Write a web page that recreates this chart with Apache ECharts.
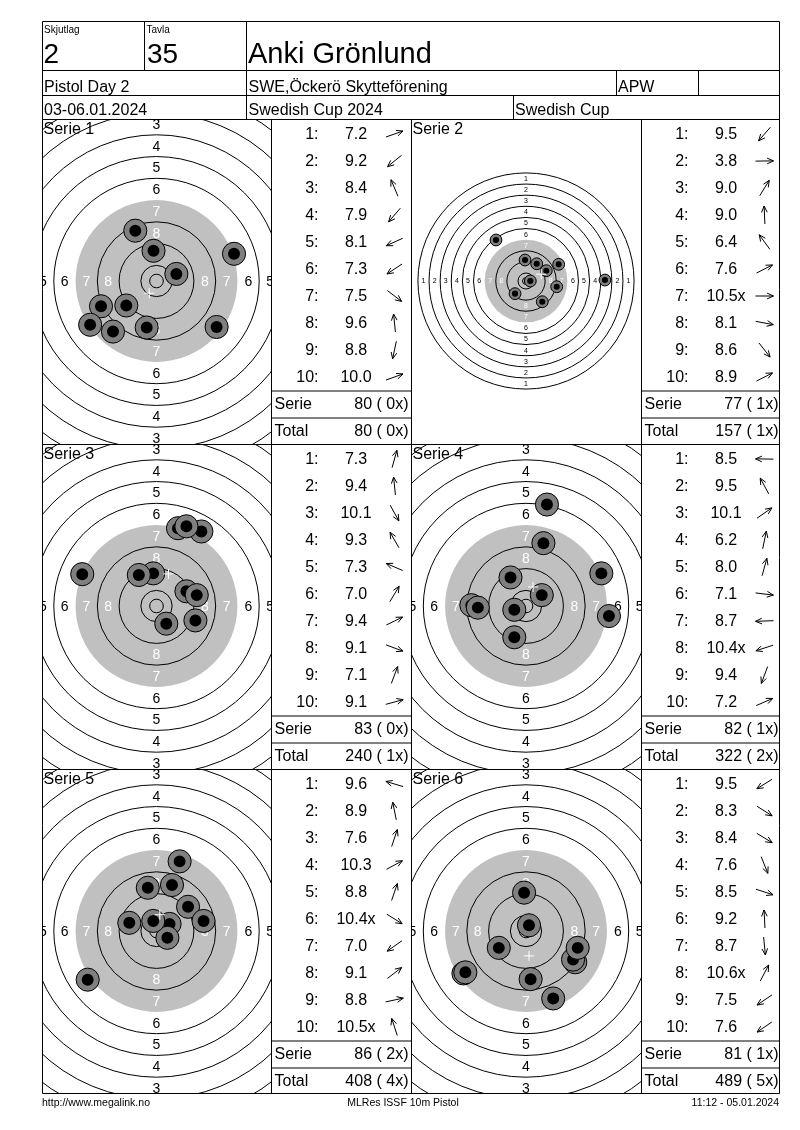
<!DOCTYPE html>
<html><head><meta charset="utf-8">
<script src="https://cdn.jsdelivr.net/npm/echarts@6/dist/echarts.min.js"></script>
<style>html,body{margin:0;padding:0;background:#fff}#c{width:800px;height:1130px}</style>
</head><body><div id="c"></div>
<script>
// ---------- DATA ----------
const relay = '2', lane = '35', shooterName = 'Anki Grönlund';
const eventName = 'Pistol Day 2', clubName = 'SWE,Öckerö Skytteförening', className = 'APW';
const dateText = '03-06.01.2024', compName = 'Swedish Cup 2024', cupName = 'Swedish Cup';
const footerLeft = 'http://www.megalink.no', footerMid = 'MLRes ISSF 10m Pistol', footerRight = '11:12 - 05.01.2024';
const serieNames = ['Serie 1', 'Serie 2', 'Serie 3', 'Serie 4', 'Serie 5', 'Serie 6'];
const shotNumbers = ['1', '2', '3', '4', '5', '6', '7', '8', '9', '10'];

// scores and inner-ten flags, shot positions in mm from centre (x right, y up)
const s1Scores = [7.2, 9.2, 8.4, 7.9, 8.1, 7.3, 7.5, 9.6, 8.8, 10.0];
const s1Inner  = [0, 0, 0, 0, 0, 0, 0, 0, 0, 0];
const s1X = [28.5, -11.1, -7.8, -16.0, -20.4, -24.4, 22.1, -1.1, -3.6, 7.3];
const s1Y = [10.0, -9.0, 18.5, -18.6, -9.3, -16.1, -16.9, 11.1, -17.1, 2.6];

const s2Scores = [9.5, 3.8, 9.0, 9.0, 6.4, 7.6, 10.5, 8.1, 8.6, 8.9];
const s2Inner  = [0, 0, 0, 0, 0, 0, 1, 0, 0, 0];
const s2X = [-7.9, 56.8, 7.7, -0.7, -21.6, 23.5, 3.1, 22.1, 11.7, 14.6];
const s2Y = [-9.1, 0.7, 12.4, 15.1, 29.5, 12.0, 0.0, -4.1, -14.9, 7.4];

const s3Scores = [7.3, 9.4, 10.1, 9.3, 7.3, 7.0, 9.4, 9.1, 7.1, 9.1];
const s3Inner  = [0, 0, 0, 0, 0, 0, 0, 0, 0, 0];
const s3X = [7.9, -1.2, 3.6, -6.5, -27.3, 16.5, 11.0, 14.3, 11.0, 14.8];
const s3Y = [28.6, 12.0, -6.5, 11.4, 11.7, 27.4, 5.4, -5.3, 29.3, 4.0];

const s4Scores = [8.5, 9.5, 10.1, 6.2, 8.0, 7.1, 8.7, 10.4, 9.4, 7.2];
const s4Inner  = [0, 0, 0, 0, 0, 0, 0, 1, 0, 0];
const s4X = [-20.1, -5.7, 5.8, 7.7, 6.4, 30.5, -17.7, -4.3, -4.3, 27.7];
const s4Y = [0.3, 10.5, 4.0, 37.3, 23.1, -3.7, -0.6, -1.4, -11.5, 12.0];

const s5Scores = [9.6, 8.9, 7.6, 10.3, 8.8, 10.4, 7.0, 9.1, 8.8, 10.5];
const s5Inner  = [0, 0, 0, 0, 0, 1, 0, 0, 0, 1];
const s5X = [-10.0, -3.2, 8.5, 4.8, 5.7, 4.0, -25.3, 11.6, 17.3, -1.2];
const s5Y = [3.0, 15.9, 25.6, 2.6, 16.9, -2.5, -17.9, 8.9, 3.7, 3.7];

const s6Scores = [9.5, 8.3, 8.4, 7.6, 8.5, 9.2, 8.7, 10.6, 7.5, 7.6];
const s6Inner  = [0, 0, 0, 0, 0, 0, 0, 1, 0, 0];
const s6X = [-10.0, 18.1, 17.3, 10.0, 19.0, -0.7, 1.7, 1.1, -23.0, -22.3];
const s6Y = [-6.2, -11.5, -10.5, -24.8, -6.2, 14.1, -17.7, 2.1, -15.6, -15.2];

// ISSF 10m pistol target: ring numbers and outer radii (mm)
const ringNumbers = [1, 2, 3, 4, 5, 6, 7, 8, 9, 10];
const ringRadii = [77.75, 69.75, 61.75, 53.75, 45.75, 37.75, 29.75, 21.75, 13.75, 5.75];
const innerTenRadius = 2.5;
const labelRings = [1, 2, 3, 4, 5, 6, 7, 8];

// ---------- LAYOUT / STYLE ----------
const FONT = '"Liberation Sans", Arial, Helvetica, sans-serif';
const targetScale = [2.72, 1.39, 2.72, 2.72, 2.72, 2.72];   // px per mm
const targetLabelSize = [14, 7, 14, 14, 14, 14];
const colTarget = [42.5, 411.5], colTargetW = [229, 230];
const colTable = [271.5, 641.5], colTableW = [140, 138];
const rowTop = [119.5, 444.5, 769.5], rowH = [325, 325, 324];
const centerOffX = [114, 114.5], centerOffY = 161.5;
const shotOuterR = 4.25, shotInnerR = 2.2;
const TY = 1.5; // text vertical nudge

const sets = [
  [s1Scores, s1Inner, s1X, s1Y], [s2Scores, s2Inner, s2X, s2Y],
  [s3Scores, s3Inner, s3X, s3Y], [s4Scores, s4Inner, s4X, s4Y],
  [s5Scores, s5Inner, s5X, s5Y], [s6Scores, s6Inner, s6X, s6Y]
];

const grids = [], xAxes = [], yAxes = [], series = [], graphics = [];

function txt(text, x, y, size, align, color) {
  return {
    type: 'text', z: 100, silent: true,
    style: { text: text, x: x, y: y + TY, fill: color || '#000', font: size + 'px ' + FONT,
      fontSize: size, fontFamily: FONT,
      textAlign: align || 'left', align: align || 'left',
      textVerticalAlign: 'middle', verticalAlign: 'middle' }
  };
}
function ln(x1, y1, x2, y2) {
  return { type: 'line', z: 100, silent: true, shape: { x1: x1, y1: y1, x2: x2, y2: y2 },
    style: { stroke: '#000', lineWidth: 1 } };
}

function ringsRender(labelSize) {
  return function (params, api) {
    const c = api.coord([0, 0]);
    const k = api.size([1, 1])[0];
    const ch = [];
    ch.push({ type: 'circle', shape: { cx: c[0], cy: c[1], r: ringRadii[6] * k }, style: { fill: '#c0c0c0' } });
    ringNumbers.forEach(function (n, i) {
      if (n === 7) return;
      ch.push({ type: 'circle', shape: { cx: c[0], cy: c[1], r: ringRadii[i] * k },
        style: { fill: 'none', stroke: '#000', lineWidth: 1 } });
    });
    ch.push({ type: 'circle', shape: { cx: c[0], cy: c[1], r: innerTenRadius * k },
      style: { fill: 'none', stroke: '#000', lineWidth: 1 } });
    labelRings.forEach(function (n) {
      const r = (ringRadii[n - 1] + ringRadii[n]) / 2 * k;
      const col = n >= 7 ? '#ffffff' : '#000000';
      [[0, -r], [0, r], [-r, 0], [r, 0]].forEach(function (d) {
        ch.push({ type: 'text', style: { text: String(n), x: c[0] + d[0], y: c[1] + d[1] + (labelSize > 10 ? 1 : 0.5),
          fill: col, fontSize: labelSize, fontFamily: FONT, font: labelSize + 'px ' + FONT,
          align: 'center', verticalAlign: 'middle', textAlign: 'center', textVerticalAlign: 'middle' } });
      });
    });
    return { type: 'group', children: ch };
  };
}
function shotsRender(params, api) {
  const p = api.coord([api.value(0), api.value(1)]);
  const k = api.size([1, 1])[0];
  return { type: 'group', children: [
    { type: 'circle', shape: { cx: p[0], cy: p[1], r: shotOuterR * k }, style: { fill: '#808080', stroke: '#000', lineWidth: 1 } },
    { type: 'circle', shape: { cx: p[0], cy: p[1], r: shotInnerR * k }, style: { fill: '#000' } }
  ] };
}
function meanRender(params, api) {
  const p = api.coord([api.value(0), api.value(1)]);
  const h = 5;
  return { type: 'group', children: [
    { type: 'line', shape: { x1: p[0] - h, y1: p[1], x2: p[0] + h, y2: p[1] }, style: { stroke: '#fff', lineWidth: 1 } },
    { type: 'line', shape: { x1: p[0], y1: p[1] - h, x2: p[0], y2: p[1] + h }, style: { stroke: '#fff', lineWidth: 1 } }
  ] };
}
function tableRender(params, api) {
  const i = api.value(1);
  const p = api.coord([0, i]);
  const x0 = p[0], y = p[1];
  const score = api.value(2), sx = api.value(3), sy = api.value(4), inner = api.value(5);
  const ch = [];
  const font = 16;
  ch.push({ type: 'text', style: { text: shotNumbers[i] + ':', x: x0 + 47, y: y + TY, fill: '#000', fontSize: font, fontFamily: FONT,
    font: font + 'px ' + FONT, align: 'right', verticalAlign: 'middle', textAlign: 'right', textVerticalAlign: 'middle' } });
  ch.push({ type: 'text', style: { text: score.toFixed(1) + (inner ? 'x' : ''), x: x0 + 84.5, y: y + TY, fill: '#000', fontSize: font, fontFamily: FONT,
    font: font + 'px ' + FONT, align: 'center', verticalAlign: 'middle', textAlign: 'center', textVerticalAlign: 'middle' } });
  const ang = Math.atan2(-sy, sx);
  const ux = Math.cos(ang), uy = Math.sin(ang);
  const ax = x0 + 123, ay = y + 1, L = 9, H = 7, a = 0.42;
  const tip = [ax + ux * L, ay + uy * L];
  ch.push({ type: 'polyline', shape: { points: [[ax - ux * L, ay - uy * L], tip] }, style: { stroke: '#000', lineWidth: 1, fill: 'none' } });
  ch.push({ type: 'polyline', shape: { points: [
    [tip[0] - H * Math.cos(ang + a), tip[1] - H * Math.sin(ang + a)], tip,
    [tip[0] - H * Math.cos(ang - a), tip[1] - H * Math.sin(ang - a)]] }, style: { stroke: '#000', lineWidth: 1, fill: 'none' } });
  return { type: 'group', children: ch };
}

let runTotal = 0, runX = 0;
sets.forEach(function (set, si) {
  const scores = set[0], inner = set[1], xs = set[2], ys = set[3];
  const col = si % 2, row = Math.floor(si / 2);
  const k = targetScale[si];
  const gl = colTarget[col], gw = colTargetW[col], gt = rowTop[row], gh = rowH[row];
  // target grid (mm)
  const tg = grids.length;
  grids.push({ left: gl, top: gt, width: gw, height: gh, show: false, containLabel: false });
  xAxes.push({ type: 'value', gridIndex: tg, min: -centerOffX[col] / k, max: (gw - centerOffX[col]) / k, show: false });
  yAxes.push({ type: 'value', gridIndex: tg, min: -(gh - centerOffY) / k, max: centerOffY / k, show: false });
  series.push({ type: 'custom', name: serieNames[si] + ' target', xAxisIndex: tg, yAxisIndex: tg, clip: true, silent: true,
    renderItem: ringsRender(targetLabelSize[si]), data: [[0, 0]], z: 2 });
  series.push({ type: 'custom', name: serieNames[si] + ' shots', xAxisIndex: tg, yAxisIndex: tg, clip: true, silent: true,
    renderItem: shotsRender, data: xs.map(function (x, i) { return [x, ys[i]]; }), z: 3 });
  const mx = xs.reduce(function (a, b) { return a + b; }, 0) / xs.length;
  const my = ys.reduce(function (a, b) { return a + b; }, 0) / ys.length;
  series.push({ type: 'custom', name: serieNames[si] + ' mean', xAxisIndex: tg, yAxisIndex: tg, clip: true, silent: true,
    renderItem: meanRender, data: [[mx, my]], z: 4 });
  // table grid
  const tb = grids.length;
  grids.push({ left: colTable[col], top: gt, width: colTableW[col], height: 270, show: false, containLabel: false });
  xAxes.push({ type: 'value', gridIndex: tb, min: 0, max: 1, show: false });
  yAxes.push({ type: 'category', gridIndex: tb, data: shotNumbers, inverse: true, show: false });
  series.push({ type: 'custom', name: serieNames[si] + ' table', xAxisIndex: tb, yAxisIndex: tb, silent: true,
    renderItem: tableRender, data: scores.map(function (s, i) { return [0, i, s, xs[i], ys[i], inner[i]]; }), z: 5 });
  // serie / total
  const serieSum = scores.reduce(function (a, s) { return a + Math.floor(s + 1e-9); }, 0);
  const serieX = inner.reduce(function (a, b) { return a + b; }, 0);
  runTotal += serieSum; runX += serieX;
  const tl = colTable[col], tw = colTableW[col];
  graphics.push(txt(serieNames[si], gl + 1, gt + 9, 16, 'left'));
  graphics.push(ln(tl, gt + 271.5, tl + tw, gt + 271.5));
  graphics.push(ln(tl, gt + 298.5, tl + tw, gt + 298.5));
  graphics.push(txt('Serie', tl + 3, gt + 284, 16, 'left'));
  graphics.push(txt(serieSum + ' ( ' + serieX + 'x)', tl + 137, gt + 284, 16, 'right'));
  graphics.push(txt('Total', tl + 3, gt + 310.5, 16, 'left'));
  graphics.push(txt(runTotal + ' ( ' + runX + 'x)', tl + 137, gt + 310.5, 16, 'right'));
});

// header frame
const L0 = 42.5, R0 = 779.5, T0 = 21.5, B0 = 1093.5;
graphics.push({ type: 'rect', z: 100, silent: true, shape: { x: L0, y: T0, width: R0 - L0, height: B0 - T0 }, style: { fill: 'none', stroke: '#000', lineWidth: 1 } });
[70.5, 95.5, 119.5, 444.5, 769.5].forEach(function (y) { graphics.push(ln(L0, y, R0, y)); });
graphics.push(ln(144.5, T0, 144.5, 70.5));
graphics.push(ln(246.5, T0, 246.5, 119.5));
graphics.push(ln(616.5, 70.5, 616.5, 95.5));
graphics.push(ln(698.5, 70.5, 698.5, 95.5));
graphics.push(ln(513.5, 95.5, 513.5, 119.5));
[271.5, 411.5, 641.5].forEach(function (x) { graphics.push(ln(x, 119.5, x, B0)); });

graphics.push(txt('Skjutlag', 44, 28.5, 10, 'left'));
graphics.push(txt('Tavla', 146.5, 28.5, 10, 'left'));
graphics.push(txt(relay, 43.5, 54, 28, 'left'));
graphics.push(txt(lane, 147, 54, 28, 'left'));
graphics.push(txt(shooterName, 248, 53, 29, 'left'));
graphics.push(txt(eventName, 44, 86, 16, 'left'));
graphics.push(txt(clubName, 248.5, 86, 16, 'left'));
graphics.push(txt(className, 618, 86, 16, 'left'));
graphics.push(txt(dateText, 44, 109, 16, 'left'));
graphics.push(txt(compName, 248.5, 109, 16, 'left'));
graphics.push(txt(cupName, 515, 109, 16, 'left'));
graphics.push(txt(footerLeft, 42, 1102, 10.5, 'left'));
graphics.push(txt(footerMid, 403, 1102, 10.5, 'center'));
graphics.push(txt(footerRight, 779, 1102, 10.5, 'right'));

const chart = echarts.init(document.getElementById('c'), null, { renderer: 'canvas', width: 800, height: 1130 });
chart.setOption({
  backgroundColor: '#ffffff',
  animation: false,
  grid: grids, xAxis: xAxes, yAxis: yAxes,
  series: series,
  graphic: { elements: graphics }
});
</script>
</body></html>
